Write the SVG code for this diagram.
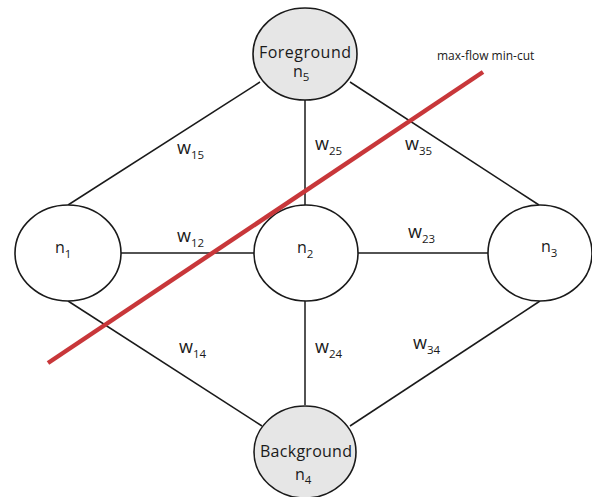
<svg xmlns="http://www.w3.org/2000/svg" width="592" height="497" viewBox="0 0 592 497">
<style>
.edge{stroke:#1a1a1a;stroke-width:1.5;fill:none}
.node{stroke:#1a1a1a;stroke-width:1.6}
.src{fill:#e6e6e6}
.plain{fill:#ffffff}
text{font-family:"Open Sans","Liberation Sans",sans-serif;fill:#1a1a1a}
.lbl{font-size:16px}
.w{font-size:18px}
.sub{font-size:11.5px}
.cut{stroke:#c8373a;stroke-width:4.5;stroke-linecap:butt}
</style>
<rect width="592" height="497" fill="#ffffff"/>
<g id="connectors">
<line class="edge" x1="260" y1="82" x2="68" y2="205"/>
<line class="edge" x1="305" y1="99" x2="305" y2="205"/>
<line class="edge" x1="350" y1="82" x2="539" y2="205"/>
<line class="edge" x1="121" y1="253" x2="254" y2="253"/>
<line class="edge" x1="358" y1="253" x2="488" y2="253"/>
<line class="edge" x1="68" y1="301" x2="262" y2="426"/>
<line class="edge" x1="305" y1="300" x2="305" y2="405"/>
<line class="edge" x1="540" y1="301" x2="350" y2="426"/>
</g>
<g id="n5">
<ellipse class="node src" cx="305" cy="54" rx="52" ry="46"/>
<text class="lbl" x="305" y="58" text-anchor="middle" textLength="92">Foreground</text>
<text class="lbl" x="293" y="77">n<tspan class="sub" dy="4">5</tspan></text>
</g>
<g id="n1">
<ellipse class="node plain" cx="68" cy="253" rx="53" ry="48"/>
<text class="lbl" x="55" y="253">n<tspan class="sub" dy="5">1</tspan></text>
</g>
<g id="n2">
<ellipse class="node plain" cx="306" cy="253" rx="52" ry="48"/>
<text class="lbl" x="297" y="253">n<tspan class="sub" dy="5">2</tspan></text>
</g>
<g id="n3">
<ellipse class="node plain" cx="540" cy="253" rx="52" ry="48"/>
<text class="lbl" x="541" y="252">n<tspan class="sub" dy="5">3</tspan></text>
</g>
<g id="n4">
<ellipse class="node src" cx="305" cy="452" rx="51" ry="46"/>
<text class="lbl" x="306" y="457" text-anchor="middle" textLength="92">Background</text>
<text class="lbl" x="295" y="480">n<tspan class="sub" dy="4">4</tspan></text>
</g>
<g id="weights">
<text class="w" x="177" y="154">w<tspan class="sub" dy="5">15</tspan></text>
<text class="w" x="315" y="150">w<tspan class="sub" dy="5">25</tspan></text>
<text class="w" x="405" y="150">w<tspan class="sub" dy="5">35</tspan></text>
<text class="w" x="177" y="242">w<tspan class="sub" dy="5">12</tspan></text>
<text class="w" x="408" y="238">w<tspan class="sub" dy="5">23</tspan></text>
<text class="w" x="179" y="353">w<tspan class="sub" dy="5">14</tspan></text>
<text class="w" x="315" y="353">w<tspan class="sub" dy="5">24</tspan></text>
<text class="w" x="413" y="349">w<tspan class="sub" dy="5">34</tspan></text>
</g>
<g id="cut">
<line class="cut" x1="48" y1="363" x2="483" y2="72"/>
<text x="437" y="60" style="font-size:12px">max-flow min-cut</text>
</g>
</svg>
